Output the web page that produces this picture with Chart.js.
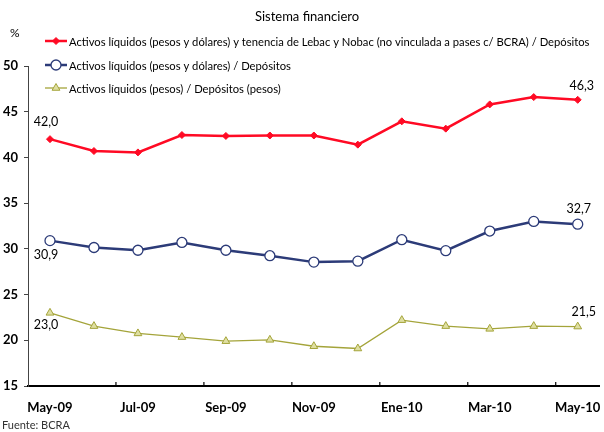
<!DOCTYPE html>
<html>
<head>
<meta charset="utf-8">
<script src="https://cdn.jsdelivr.net/npm/chart.js@4/dist/chart.umd.min.js"></script>
<style>
  html, body { margin: 0; padding: 0; background: #fff; overflow: hidden; }
  #wrap { width: 606px; height: 432px; position: relative; }
</style>
</head>
<body>
<div id="wrap"><canvas id="graficoLiquidez"></canvas></div>
<script>
// Meses (may-09 a may-10)
const meses = ['May-09', 'Jun-09', 'Jul-09', 'Ago-09', 'Sep-09', 'Oct-09', 'Nov-09',
               'Dic-09', 'Ene-10', 'Feb-10', 'Mar-10', 'Abr-10', 'May-10'];

const liqConLebac = [42.0, 40.7, 40.55, 42.45, 42.35, 42.4, 42.4, 41.4, 43.95, 43.15, 45.8, 46.6, 46.3];
const liqTotal    = [30.9, 30.15, 29.85, 30.7, 29.85, 29.25, 28.55, 28.65, 31.0, 29.8, 31.95, 33.0, 32.7];
const liqPesos    = [23.0, 21.55, 20.75, 20.35, 19.9, 20.05, 19.35, 19.1, 22.2, 21.55, 21.25, 21.55, 21.5];

const yTicks = [15, 20, 25, 30, 35, 40, 45, 50];

const leyendas = [
    'Activos líquidos (pesos y dólares) y tenencia de Lebac y Nobac (no vinculada a pases c/ BCRA) / Depósitos',
    'Activos líquidos (pesos y dólares) / Depósitos',
    'Activos líquidos (pesos) / Depósitos (pesos)'
];

const ROJO = '#ff0a24';
const AZUL = '#2c3b78';
const OLIVA = '#a4a43a';

Chart.defaults.font.family = 'Lato, "DejaVu Sans", sans-serif';
Chart.defaults.color = '#000';

// textos, leyenda, marcas del eje x y etiquetas de valores
const extras = {
    id: 'extras',
    afterDraw(chart) {
        const ctx = chart.ctx;
        const xs = chart.scales.x;
        const area = chart.chartArea;
        ctx.save();

        ctx.fillStyle = '#000';
        ctx.textBaseline = 'middle';
        ctx.font = '13px Lato';
        ctx.textAlign = 'center';
        ctx.fillText('Sistema financiero', 307, 17);

        ctx.font = '12px Lato';
        ctx.textAlign = 'left';
        ctx.fillText('%', 10, 33);

        // leyenda: el texto largo termina cerca de x=590 en el original
        ctx.font = '12px Lato';
        const anchoLargo = ctx.measureText(leyendas[0]).width;
        const tamLey = Math.min(12, 12 * 521 / anchoLargo);
        const ys = [41, 65, 88];
        chart.data.datasets.forEach((ds, i) => {
            const y = ys[i];
            ctx.strokeStyle = ds.borderColor;
            ctx.lineWidth = ds.borderWidth;
            ctx.beginPath();
            ctx.moveTo(45, y);
            ctx.lineTo(67, y);
            ctx.stroke();
            ctx.fillStyle = ds.pointBackgroundColor;
            ctx.strokeStyle = ds.pointBorderColor;
            ctx.lineWidth = ds.pointBorderWidth;
            Chart.helpers.drawPoint(ctx, {
                pointStyle: ds.pointStyle, radius: ds.pointRadius, rotation: 0,
                borderWidth: ds.pointBorderWidth
            }, 56, y);
            ctx.fillStyle = '#000';
            ctx.font = tamLey.toFixed(2) + 'px Lato';
            ctx.textAlign = 'left';
            ctx.fillText(ds.label, 69, y + 1);
        });

        // marcas cada dos meses sobre el eje x
        ctx.strokeStyle = '#000';
        ctx.lineWidth = 1.2;
        for (let i = 2; i < meses.length; i += 2) {
            const x = (xs.getPixelForValue(i - 1) + xs.getPixelForValue(i)) / 2;
            ctx.beginPath();
            ctx.moveTo(x, area.bottom);
            ctx.lineTo(x, area.bottom - 4);
            ctx.stroke();
        }

        // etiquetas de primer y ultimo valor
        const offs = [
            [[-4, -17], [4, -14]],
            [[-4, 14], [1, -15]],
            [[-4, 12], [6, -15]]
        ];
        ctx.font = '12.5px Lato';
        ctx.textAlign = 'center';
        ctx.fillStyle = '#000';
        chart.data.datasets.forEach((ds, d) => {
            const pts = chart.getDatasetMeta(d).data;
            [0, pts.length - 1].forEach((idx, k) => {
                const p = pts[idx];
                const txt = ds.data[idx].toFixed(1).replace('.', ',');
                ctx.fillText(txt, p.x + offs[d][k][0], p.y + offs[d][k][1]);
            });
        });

        ctx.font = '11px Lato';
        ctx.textAlign = 'left';
        ctx.fillStyle = '#333';
        ctx.fillText('Fuente: BCRA', 2, 425);
        ctx.restore();
    }
};

new Chart(document.getElementById('graficoLiquidez'), {
    type: 'line',
    data: {
        labels: meses,
        datasets: [{
            label: leyendas[0],
            data: liqConLebac,
            borderColor: ROJO,
            borderWidth: 2.5,
            pointStyle: 'rectRot',
            pointRadius: 3.5,
            pointBackgroundColor: ROJO,
            pointBorderColor: ROJO,
            pointBorderWidth: 1
        }, {
            label: leyendas[1],
            data: liqTotal,
            borderColor: AZUL,
            borderWidth: 2.5,
            pointStyle: 'circle',
            pointRadius: 5,
            pointBackgroundColor: '#ffffff',
            pointBorderColor: AZUL,
            pointBorderWidth: 1.3
        }, {
            label: leyendas[2],
            data: liqPesos,
            borderColor: OLIVA,
            borderWidth: 1.3,
            pointStyle: 'triangle',
            pointRadius: 4.5,
            pointBackgroundColor: '#dfdfa2',
            pointBorderColor: OLIVA,
            pointBorderWidth: 1
        }]
    },
    options: {
        responsive: true,
        maintainAspectRatio: false,
        animation: false,
        layout: { padding: { top: 66, left: 0, right: 0, bottom: 0 } },
        elements: { line: { tension: 0 } },
        plugins: {
            legend: { display: false },
            title: { display: false },
            tooltip: { enabled: false }
        },
        scales: {
            x: {
                offset: true,
                afterFit(scale) {
                    scale.height = 46;
                    scale.paddingLeft = 0;
                    scale.paddingRight = 0;
                },
                grid: {
                    drawOnChartArea: false,
                    drawTicks: false
                },
                border: { color: '#000', width: 2 },
                ticks: {
                    autoSkip: false,
                    maxRotation: 0,
                    padding: 14,
                    font: { size: 13, weight: 'bold' },
                    callback: function (v, i) {
                        return i % 2 === 0 ? meses[i] : '';
                    }
                }
            },
            y: {
                min: 15,
                max: 50,
                afterFit(scale) {
                    scale.width = 28;
                    scale.paddingTop = 0;
                    scale.paddingBottom = 0;
                },
                afterBuildTicks(scale) {
                    scale.ticks = yTicks.map(v => ({ value: v }));
                },
                grid: {
                    drawOnChartArea: false,
                    tickLength: 4,
                    tickColor: '#444'
                },
                border: { color: '#444', width: 1 },
                ticks: {
                    padding: 6,
                    font: { size: 13, weight: 'bold' }
                }
            }
        }
    },
    plugins: [extras]
});
</script>
</body>
</html>
